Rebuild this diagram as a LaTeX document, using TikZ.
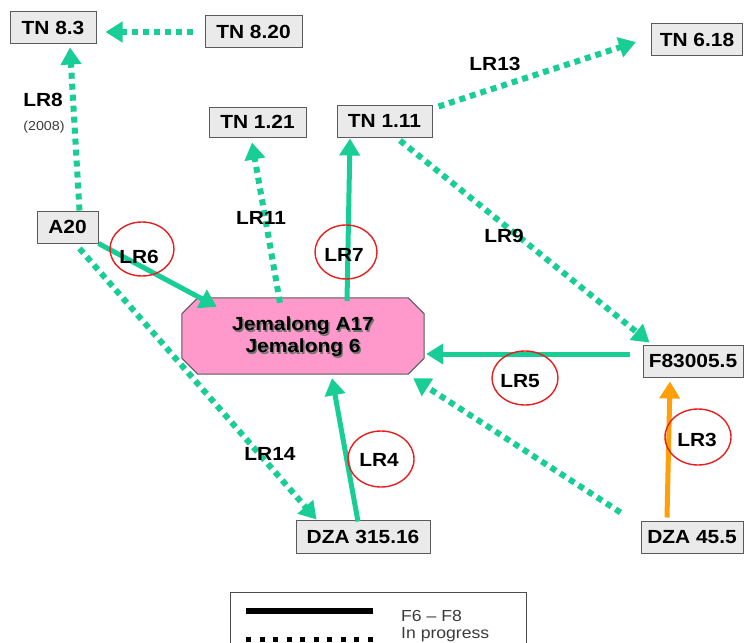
\documentclass[tikz,border=0pt]{standalone}
\usepackage{fontspec}
\setmainfont{Liberation Sans}[FakeStretch=1.1]
\usetikzlibrary{arrows.meta,calc,shapes.geometric}
\definecolor{lrgreen}{RGB}{25,205,150}
\definecolor{lrorange}{RGB}{255,160,10}
\definecolor{jempink}{RGB}{255,153,204}
\definecolor{boxfill}{RGB}{234,234,234}
\definecolor{boxborder}{RGB}{90,90,90}
\definecolor{lrred}{RGB}{232,30,30}
\definecolor{legendtext}{RGB}{60,60,60}
\tikzset{
  boxnode/.style={draw=boxborder, fill=boxfill, line width=1pt, inner sep=0pt,
    minimum height=32pt, font=\fontsize{19}{22}\selectfont\bfseries},
  tipstyle/.style={-{Triangle[length=17pt,width=20pt]}},
  solidarrow/.style={draw=lrgreen, line width=5pt, tipstyle},
  orangearrow/.style={draw=lrorange, line width=5pt, tipstyle},
  dotarrow/.style={draw=lrgreen, line width=6pt, dash pattern=on 6pt off 5pt, tipstyle},
  lrlabel/.style={font=\fontsize{19}{22}\selectfont\bfseries, inner sep=0pt},
  lrring/.style={draw=lrred, line width=1.4pt, ellipse, inner sep=0pt},
  jemtext/.style={font=\fontsize{19}{22}\selectfont\bfseries, align=center, inner sep=0pt},
}
\begin{document}
\begin{tikzpicture}[x=1pt,y=-1pt]
\useasboundingbox (0,0) rectangle (746,642);
\fill[white] (0,0) rectangle (746,642);

% boxes
\node[boxnode, minimum width=86pt] (tn83) at (53,28) {TN 8.3};
\node[boxnode, minimum width=97pt] (tn820) at (253.5,32) {TN 8.20};
\node[boxnode, minimum width=97pt, minimum height=30pt] (tn121) at (257.5,122) {TN 1.21};
\node[boxnode, minimum width=95pt] (tn111) at (384.5,121) {TN 1.11};
\node[boxnode, minimum width=91pt] (tn618) at (697,40) {TN 6.18};
\node[boxnode, minimum width=61pt] (a20) at (67.5,227) {A20};
\node[boxnode, minimum width=100pt] (f83) at (693,361) {F83005.5};
\node[boxnode, minimum width=102pt] (dza45) at (692,537) {DZA 45.5};
\node[boxnode, minimum width=134pt, minimum height=33pt] (dza315) at (363,536.5) {DZA 315.16};

% central octagon
\node[minimum width=242pt, minimum height=76pt, inner sep=0pt] (jem) at (303,336) {};
\filldraw[fill=jempink, draw=boxborder, line width=1pt]
  ($(jem.north west)+(16,0)$) -- ($(jem.north east)+(-16,0)$) -- ($(jem.north east)+(0,16)$)
  -- ($(jem.south east)+(0,-16)$) -- ($(jem.south east)+(-16,0)$) -- ($(jem.south west)+(16,0)$)
  -- ($(jem.south west)+(0,-16)$) -- ($(jem.north west)+(0,16)$) -- cycle;
\node[jemtext, text=black!55] (jemshadow) at ($(jem.center)+(1.4,2.4)$) {Jemalong A17\\Jemalong 6};
\node[jemtext] (jemlabel) at ($(jem.center)+(0,1)$) {Jemalong A17\\Jemalong 6};

% connectors
\draw[dotarrow] ($(tn820.west)+(-12,0)$) -- ($(tn83.east)+(9,4)$);
\draw[dotarrow] ($(a20.north)+(12,0)$) -- ($(tn83.south)+(17,3)$);
\draw[dotarrow] ($(jem.north)+(-23,5)$) -- ($(tn121.south)+(-5.5,5)$);
\draw[solidarrow] ($(jem.north)+(44,3)$) -- ($(tn111.south)+(-34.5,1)$);
\draw[solidarrow] (a20.south east) -- ($(jem.north west)+(35,9)$);
\draw[dotarrow] ($(a20.south)+(12,5)$) -- ($(dza315.north west)+(21,0)$);
\draw[solidarrow] ($(dza315.north)+(-5,2)$) -- ($(jem.south)+(29,4)$);
\draw[solidarrow] ($(f83.west)+(-13,-7)$) -- ($(jem.east)+(2,18)$);
\draw[dotarrow] ($(tn111.south)+(15.5,3)$) -- ($(f83.north west)+(7,-2)$);
\draw[dotarrow] ($(tn111.north east)+(6,2)$) -- ($(tn618.west)+(-15,2)$);
\draw[dotarrow] ($(dza45.north west)+(-20,-8)$) -- ($(jem.south east)+(-11,4)$);
\draw[orangearrow] ($(dza45.north)+(-25,-3)$) -- ($(f83.south)+(-23,4)$);

% labels
\node[lrlabel] (lr8) at (43,100) {LR8};
\node[inner sep=0pt, font=\fontsize{13}{15}\selectfont, text=legendtext] (lr8y) at (44,127) {(2008)};
\node[lrlabel] (lr11) at (261,218) {LR11};
\node[lrlabel] (lr7) at (344,255) {LR7};
\node[lrlabel] (lr6) at (139,257) {LR6};
\node[lrlabel] (lr14) at (270,454) {LR14};
\node[lrlabel] (lr4) at (379,460) {LR4};
\node[lrlabel] (lr5) at (520,381) {LR5};
\node[lrlabel] (lr9) at (504,236) {LR9};
\node[lrlabel] (lr13) at (495,64) {LR13};
\node[lrlabel] (lr3) at (697,440) {LR3};

% red rings
\node[lrring, minimum width=62pt, minimum height=54pt] (ring7) at (346,252) {};
\node[lrring, minimum width=64pt, minimum height=54pt] (ring6) at (142,249) {};
\node[lrring, minimum width=66pt, minimum height=56pt] (ring4) at (381,459) {};
\node[lrring, minimum width=66pt, minimum height=54pt] (ring5) at (525,378) {};
\node[lrring, minimum width=66pt, minimum height=56pt] (ring3) at (698,437) {};

% legend
\draw[draw=black!70, line width=1pt] (230,650) -- (230,592) -- (526,592) -- (526,650);
\coordinate (ls1) at (246,611);
\coordinate (ls2) at (373,611);
\coordinate (ld1) at (246,639);
\coordinate (ld2) at (373,639);
\draw[black, line width=6pt] (ls1) -- (ls2);
\draw[black, line width=5pt, dash pattern=on 5pt off 8.5pt] (ld1) -- (ld2);
\node[anchor=base west, inner sep=0pt, font=\fontsize{16}{18}\selectfont, text=legendtext] (lt1) at (401,621) {F6 -- F8};
\node[anchor=base west, inner sep=0pt, font=\fontsize{16}{18}\selectfont, text=legendtext] (lt2) at (401,638) {In progress};
\end{tikzpicture}
\end{document}
